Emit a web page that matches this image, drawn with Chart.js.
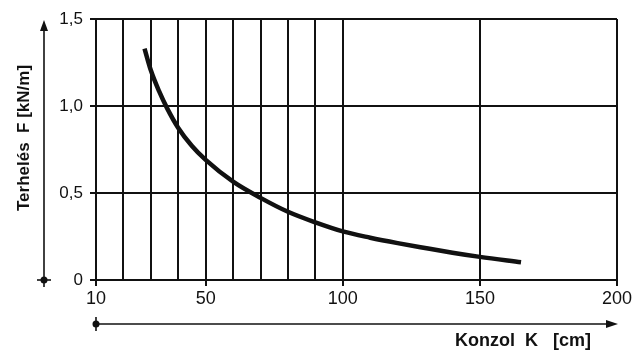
<!DOCTYPE html>
<html>
<head>
<meta charset="utf-8">
<script src="https://cdn.jsdelivr.net/npm/chart.js@4.4.1/dist/chart.umd.min.js"></script>
<style>
  html, body { margin: 0; padding: 0; background: #fff; }
  #wrap { width: 638px; height: 351px; position: relative; }
</style>
</head>
<body>
<div id="wrap"><canvas id="c" width="638" height="351"></canvas></div>
<script>
// ---- data ----
const K_CM = [27.7, 30, 33, 36, 40, 45, 50, 60, 70, 80, 90, 100, 110, 120, 130, 140, 150, 165];
const F_KNM = [1.33, 1.205, 1.085, 0.985, 0.874, 0.77, 0.69, 0.565, 0.472, 0.392, 0.331, 0.279, 0.243, 0.212, 0.184, 0.157, 0.133, 0.102];
const X_GRID = [10, 20, 30, 40, 50, 60, 70, 80, 90, 100, 150, 200];
const X_LABELS = [10, 50, 100, 150, 200];
const Y_TICKS = [0, 0.5, 1.0, 1.5];
const Y_LABELS = ['0', '0,5', '1,0', '1,5'];
const Y_TITLE = 'Terhelés  F [kN/m]';
const X_TITLE = 'Konzol  K   [cm]';

const INK = '#111';
const FONT = 'Liberation Sans, Arial, Helvetica, sans-serif';

const axisArrows = {
  id: 'axisArrows',
  afterDraw(chart) {
    const ctx = chart.ctx;
    const a = chart.chartArea;
    ctx.save();
    ctx.strokeStyle = INK;
    ctx.fillStyle = INK;
    ctx.lineWidth = 1.6;
    // y arrow
    const yx = 44;
    ctx.beginPath();
    ctx.moveTo(yx, a.bottom + 7);
    ctx.lineTo(yx, a.top + 8);
    ctx.stroke();
    ctx.beginPath();
    ctx.moveTo(yx, a.top + 1);
    ctx.lineTo(yx - 4, a.top + 12);
    ctx.lineTo(yx + 4, a.top + 12);
    ctx.closePath();
    ctx.fill();
    ctx.beginPath();
    ctx.moveTo(yx - 7, a.bottom);
    ctx.lineTo(yx + 7, a.bottom);
    ctx.stroke();
    ctx.beginPath();
    ctx.arc(yx, a.bottom, 3.5, 0, Math.PI * 2);
    ctx.fill();
    // x arrow
    const xy = 324;
    ctx.beginPath();
    ctx.moveTo(a.left, xy);
    ctx.lineTo(a.right - 6, xy);
    ctx.stroke();
    ctx.beginPath();
    ctx.moveTo(a.right + 1, xy);
    ctx.lineTo(a.right - 11, xy - 4);
    ctx.lineTo(a.right - 11, xy + 4);
    ctx.closePath();
    ctx.fill();
    ctx.beginPath();
    ctx.moveTo(a.left, xy - 7);
    ctx.lineTo(a.left, xy + 7);
    ctx.stroke();
    ctx.beginPath();
    ctx.arc(a.left, xy, 3.5, 0, Math.PI * 2);
    ctx.fill();
    // titles
    ctx.font = 'bold 17px ' + FONT;
    ctx.textAlign = 'center';
    ctx.textBaseline = 'middle';
    ctx.save();
    ctx.translate(24, 138);
    ctx.rotate(-Math.PI / 2);
    ctx.fillText(Y_TITLE, 0, 0);
    ctx.restore();
    ctx.font = 'bold 18px ' + FONT;
    ctx.textAlign = 'right';
    ctx.textBaseline = 'alphabetic';
    ctx.fillText(X_TITLE, 591, 346);
    ctx.restore();
  }
};

new Chart(document.getElementById('c'), {
  type: 'scatter',
  data: {
    datasets: [{
      data: K_CM.map((k, i) => ({ x: k, y: F_KNM[i] })),
      showLine: true,
      borderColor: INK,
      borderWidth: 4.5,
      pointRadius: 0,
      cubicInterpolationMode: 'monotone',
      borderCapStyle: 'butt'
    }]
  },
  options: {
    responsive: false,
    animation: false,
    devicePixelRatio: 1,
    layout: { padding: { top: 19, right: 21, left: 0, bottom: 0 } },
    plugins: { legend: { display: false }, tooltip: { enabled: false } },
    scales: {
      x: {
        type: 'linear',
        min: 10,
        max: 200,
        afterBuildTicks(s) { s.ticks = X_GRID.map(v => ({ value: v })); },
        afterFit(s) { s.height = 71; },
        ticks: {
          autoSkip: false,
          maxRotation: 0,
          padding: 2,
          color: INK,
          font: { family: FONT, size: 18 },
          callback: v => X_LABELS.includes(v) ? String(v) : ''
        },
        grid: {
          color: INK,
          lineWidth: 2,
          tickLength: 6,
          tickColor: c => (c.tick && X_LABELS.includes(c.tick.value)) ? INK : 'rgba(0,0,0,0)'
        },
        border: { color: INK, width: 2 }
      },
      y: {
        min: 0,
        max: 1.5,
        afterBuildTicks(s) { s.ticks = Y_TICKS.map(v => ({ value: v })); },
        afterFit(s) { s.width = 96; },
        ticks: {
          padding: 7,
          color: INK,
          font: { family: FONT, size: 17 },
          callback: (v) => { const i = Y_TICKS.indexOf(v); return i >= 0 ? Y_LABELS[i] : ''; }
        },
        grid: { color: INK, lineWidth: 2, tickLength: 6 },
        border: { color: INK, width: 2 }
      }
    }
  },
  plugins: [axisArrows]
});
</script>
</body>
</html>
